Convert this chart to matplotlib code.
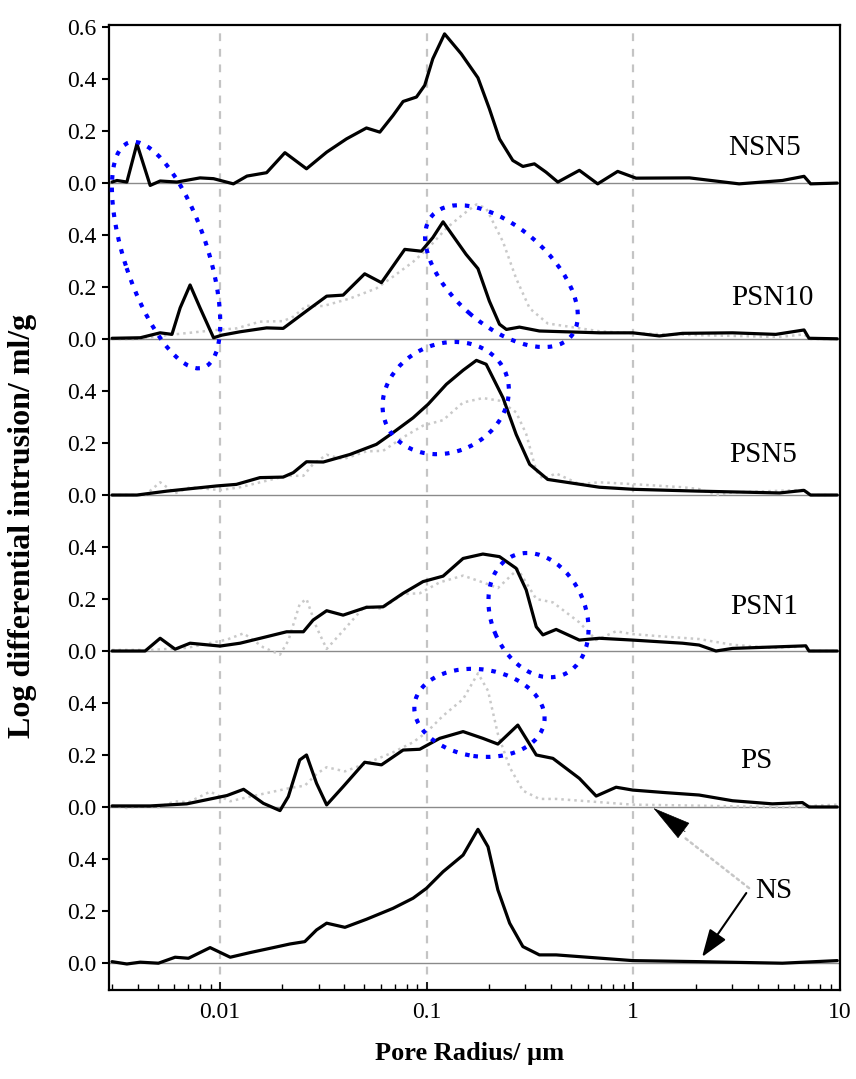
import numpy as np
import matplotlib.pyplot as plt
from matplotlib.patches import Ellipse
from matplotlib.transforms import ScaledTranslation

plt.rcParams['font.family'] = ['Liberation Serif', 'DejaVu Serif']

# pore radius (um) / log differential intrusion (ml/g)
ns_r = [0.0030, 0.00354, 0.00411, 0.00503, 0.00606, 0.00703, 0.00895, 0.0112, 0.0140, 0.0181,
        0.0218, 0.0257, 0.0293, 0.0328, 0.0402, 0.0511, 0.0687, 0.0859, 0.0997, 0.120,
        0.150, 0.177, 0.198, 0.221, 0.252, 0.292, 0.351, 0.423, 0.993, 2.08, 5.26, 9.70]
ns_v = [0.005, -0.004, 0.003, -0.001, 0.022, 0.018, 0.059, 0.022, 0.04, 0.059,
        0.073, 0.082, 0.127, 0.153, 0.137, 0.168, 0.21, 0.249, 0.287, 0.351,
        0.415, 0.514, 0.447, 0.281, 0.153, 0.063, 0.031, 0.031, 0.009, 0.005, -0.001, 0.009]

ps_r = [0.0030, 0.00459, 0.0069, 0.0108, 0.0130, 0.0162, 0.0195, 0.0214, 0.0243, 0.0262,
        0.0293, 0.0328, 0.0394, 0.0501, 0.0604, 0.0769, 0.0925, 0.1156, 0.150, 0.187,
        0.221, 0.276, 0.339, 0.408, 0.548, 0.661, 0.825, 0.993, 1.44, 2.08,
        3.02, 4.71, 6.58, 7.08, 9.70]
ps_v = [0.004, 0.004, 0.012, 0.044, 0.068, 0.014, -0.014, 0.04, 0.181, 0.2,
        0.091, 0.008, 0.078, 0.172, 0.162, 0.219, 0.222, 0.264, 0.29, 0.264,
        0.242, 0.315, 0.2, 0.187, 0.11, 0.042, 0.076, 0.065, 0.055, 0.046,
        0.024, 0.012, 0.017, 0.0, 0.0]

psn1_r = [0.0030, 0.00434, 0.00513, 0.00606, 0.00716, 0.0100, 0.0125, 0.0168, 0.0210, 0.0253,
          0.0282, 0.0328, 0.0394, 0.0511, 0.0615, 0.0769, 0.0960, 0.120, 0.150, 0.187,
          0.225, 0.271, 0.303, 0.339, 0.365, 0.423, 0.548, 0.685, 0.993, 1.73,
          2.08, 2.51, 3.02, 6.34, 6.83, 7.08, 9.70]
psn1_v = [0.0, 0.0, 0.049, 0.007, 0.03, 0.019, 0.03, 0.055, 0.074, 0.074,
          0.119, 0.155, 0.138, 0.168, 0.17, 0.222, 0.267, 0.288, 0.356, 0.373,
          0.363, 0.318, 0.235, 0.093, 0.062, 0.083, 0.042, 0.049, 0.042, 0.03,
          0.023, 0.0, 0.01, 0.019, 0.02, 0.0, 0.0]

psn5_r = [0.0030, 0.00396, 0.00553, 0.00964, 0.0120, 0.0156, 0.0202, 0.0226, 0.0262, 0.0316,
          0.0425, 0.0571, 0.0687, 0.0859, 0.1015, 0.1245, 0.150, 0.174, 0.194, 0.234,
          0.271, 0.315, 0.385, 0.685, 1.0, 2.06, 5.1, 6.7, 7.2, 9.7]
psn5_v = [0.0, 0.0, 0.015, 0.035, 0.041, 0.067, 0.069, 0.086, 0.128, 0.127,
          0.156, 0.195, 0.24, 0.297, 0.349, 0.426, 0.48, 0.518, 0.503, 0.374,
          0.233, 0.118, 0.06, 0.03, 0.022, 0.015, 0.008, 0.018, 0.0, 0.0]

psn10_r = [0.0030, 0.00411, 0.00513, 0.00585, 0.00641, 0.00716, 0.0080, 0.0093, 0.0102, 0.0125,
           0.0168, 0.0202, 0.0262, 0.0328, 0.0394, 0.0501, 0.0604, 0.0783, 0.0942, 0.107,
           0.120, 0.155, 0.177, 0.201, 0.225, 0.243, 0.281, 0.351, 0.685, 0.993,
           1.336, 1.73, 3.02, 4.89, 6.70, 7.08, 9.70]
psn10_v = [0.003, 0.005, 0.024, 0.018, 0.12, 0.208, 0.12, 0.005, 0.015, 0.028,
           0.043, 0.041, 0.108, 0.165, 0.169, 0.251, 0.217, 0.345, 0.338, 0.39,
           0.451, 0.326, 0.271, 0.146, 0.057, 0.037, 0.046, 0.031, 0.024, 0.024,
           0.012, 0.022, 0.024, 0.018, 0.035, 0.003, 0.001]

nsn5_r = [0.0030, 0.00317, 0.00354, 0.00396, 0.00459, 0.00513, 0.00618, 0.0080, 0.0093, 0.0116,
          0.0135, 0.0168, 0.0206, 0.0262, 0.0328, 0.0409, 0.0511, 0.0593, 0.0687, 0.0769,
          0.0892, 0.0978, 0.107, 0.122, 0.147, 0.177, 0.201, 0.225, 0.261, 0.292,
          0.332, 0.378, 0.431, 0.548, 0.672, 0.840, 1.03, 1.87, 3.25, 5.26,
          6.70, 7.21, 9.70]
nsn5_v = [0.004, 0.01, 0.004, 0.151, -0.009, 0.008, 0.004, 0.02, 0.017, -0.003,
          0.027, 0.04, 0.117, 0.055, 0.119, 0.17, 0.212, 0.196, 0.26, 0.314,
          0.331, 0.376, 0.478, 0.574, 0.497, 0.405, 0.286, 0.17, 0.087, 0.064,
          0.074, 0.042, 0.004, 0.049, -0.003, 0.045, 0.019, 0.02, -0.003, 0.01,
          0.026, -0.003, 0.0]

samples = ['NS', 'PS', 'PSN1', 'PSN5', 'PSN10', 'NSN5']   # bottom to top
curves = [(ns_r, ns_v), (ps_r, ps_v), (psn1_r, psn1_v),
          (psn5_r, psn5_v), (psn10_r, psn10_v), (nsn5_r, nsn5_v)]
step = 0.6
panel_ticks = ['0.0', '0.2', '0.4']

# label positions (radius, stacked y)
label_pos = [(4.80, 0.277), (3.93, 0.777), (4.30, 1.369), (4.25, 1.954), (4.69, 2.558), (4.30, 3.135)]

# marked regions: centre (radius, stacked y), size in px, angle
rings = [(0.00548, 2.723, 237, 83, -71.7),
         (0.230, 2.642, 184, 98, -41.2),
         (0.1236, 2.173, 130, 108, 25),
         (0.3475, 1.338, 129, 94, -67),
         (0.180, 0.962, 131, 87, -8)]

fig = plt.figure(figsize=(8.56, 10.79), dpi=100)
ax = fig.add_axes([0.1273, 0.0825, 0.8540, 0.8943])
ax.set_xscale('log')
ax.set_xlim(0.0029, 10)
ax.set_ylim(-0.104, 3.608)

for xv in [0.01, 0.1, 1]:
    ax.axvline(xv, color='#c4c4c4', lw=1.6, ls=(0, (3.5, 3.5)), zorder=0)

for i, (r, v) in enumerate(curves):
    off = i * step
    ax.axhline(off, color='#8a8a8a', lw=1.0, zorder=1)
    # dotted grey = sample of the panel below, for comparison (not on top panel)
    if 0 < i < len(curves) - 1:
        pr, pv = curves[i - 1]
        ax.plot(pr, np.array(pv) + off, color='#c9c9c9', lw=1.8,
                ls=(0, (1, 1.6)), zorder=2)
    ax.plot(r, np.array(v) + off, color='black', lw=2.3, zorder=3,
            solid_joinstyle='round', solid_capstyle='round')
    lx, ly = label_pos[i]
    ax.text(lx, ly, samples[i], fontsize=21, ha='center', va='center')

for cx, cy, w, h, ang in rings:
    tr = fig.dpi_scale_trans + ScaledTranslation(cx, cy, ax.transData)
    ax.add_patch(Ellipse((0, 0), w / 100, h / 100, angle=ang, transform=tr,
                         fill=False, ec='#0000ff', lw=3, ls=(0, (1.1, 1.9)),
                         zorder=5, clip_on=False))

# arrows pointing at NS curve and NS reference in PS panel
ax.annotate('', xy=(1.73, 0.488), xytext=(3.63, 0.288),
            arrowprops=dict(arrowstyle='-', color='#c6c6c6', lw=1.8, ls=(0, (1, 1.6)),
                            shrinkA=0, shrinkB=0))
ax.annotate('', xy=(1.249, 0.596), xytext=(1.78, 0.505),
            arrowprops=dict(arrowstyle='-|>,head_length=2.6,head_width=0.65',
                            color='black', lw=0.5, shrinkA=0, shrinkB=0, mutation_scale=10))
ax.annotate('', xy=(2.15, 0.023), xytext=(3.52, 0.269),
            arrowprops=dict(arrowstyle='-|>,head_length=1.7,head_width=0.6',
                            color='black', lw=1.5, shrinkA=0, shrinkB=0, mutation_scale=10))

# stacked y ticks
yt = []
ylab = []
for i in range(len(samples)):
    for j, t in enumerate(panel_ticks):
        yt.append(i * step + j * 0.2)
        ylab.append(t)
yt.append(len(samples) * step)
ylab.append('0.6')
ax.set_yticks(yt)
ax.set_yticklabels(ylab)
ax.tick_params(axis='y', direction='out', length=5, width=1.5, labelsize=17, pad=4)

ax.set_xticks([0.01, 0.1, 1, 10])
ax.set_xticklabels(['0.01', '0.1', '1', '10'])
ax.tick_params(axis='x', which='major', direction='in', length=6, width=1.2, labelsize=17, pad=9)
ax.tick_params(axis='x', which='minor', direction='in', length=4, width=1.0)

for s in ax.spines.values():
    s.set_linewidth(1.6)

fig.text(0.549, 0.024, 'Pore Radius/ \u00b5m', fontsize=19, fontweight='bold',
         ha='center', va='center')
fig.text(0.026, 0.5125, 'Log differential intrusion/ ml/g', fontsize=23, fontweight='bold',
         rotation=90, ha='center', va='center')

fig.savefig('out.png', dpi=100)
